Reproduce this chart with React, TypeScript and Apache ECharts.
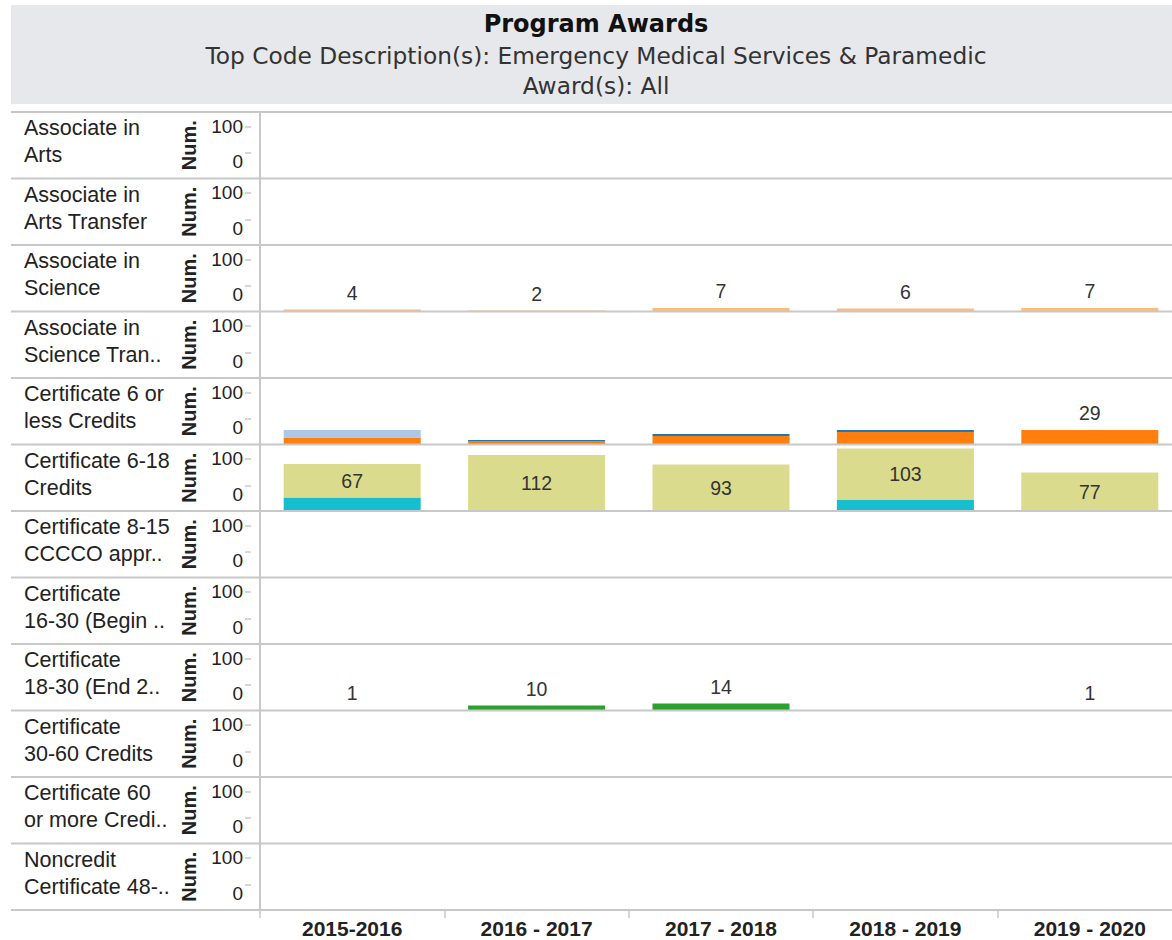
import React, { useEffect, useRef } from 'react';
import * as echarts from 'echarts';

// ---------- data ----------
const years = ['2015-2016', '2016 - 2017', '2017 - 2018', '2018 - 2019', '2019 - 2020'];
const awardTypes = [
  'Associate in\nArts',
  'Associate in\nArts Transfer',
  'Associate in\nScience',
  'Associate in\nScience Tran..',
  'Certificate 6 or\nless Credits',
  'Certificate 6-18\nCredits',
  'Certificate 8-15\nCCCCO appr..',
  'Certificate\n16-30 (Begin ..',
  'Certificate\n18-30 (End 2..',
  'Certificate\n30-60 Credits',
  'Certificate 60\nor more Credi..',
  'Noncredit\nCertificate 48-..',
];
const yTickValues = [0, 100];
const titleText = 'Program Awards';
const subtitleLines = [
  'Top Code Description(s): Emergency Medical Services & Paramedic',
  'Award(s): All',
];

const assocScience = [4, 2, 7, 6, 7];
const cert6Orange = [14, 6, 17, 25, 29];
const cert6OrangeLabeled = [false, false, false, false, true];
const cert6Blue = [0, 3, 4, 4, 0];
const cert6LightBlue = [15, 0, 0, 0, 0];
const cert618Teal = [27, 0, 0, 22, 0];
const cert618Khaki = [67, 112, 93, 103, 77];
const cert1830Green = [1, 10, 14, null, 1];

// ---------- layout / style ----------
const FONT = "'Liberation Sans', Arial, sans-serif";
const HFONT = "'DejaVu Sans', sans-serif";
const ROW_TOP = 112;
const ROW_H = 66.5;
const PLOT_LEFT = 260;
const PLOT_W = 922;
const CHART_W = 1182;
const LINE = '#c8c8c8';
const TEXT = '#222';

type Def = {
  row: number;
  values: (number | null)[];
  color: string;
  stack?: string;
  labelPos?: 'top' | 'inside';
  labeled?: boolean[];
};

const seriesDefs: Def[] = [
  { row: 2, values: assocScience, color: '#ffbb78', labelPos: 'top' },
  { row: 4, values: cert6Orange, color: '#ff7f0e', stack: 'r4', labelPos: 'top', labeled: cert6OrangeLabeled },
  { row: 4, values: cert6Blue, color: '#1f77b4', stack: 'r4' },
  { row: 4, values: cert6LightBlue, color: '#aec7e8', stack: 'r4' },
  { row: 5, values: cert618Teal, color: '#17becf', stack: 'r5' },
  { row: 5, values: cert618Khaki, color: '#dbdb8d', stack: 'r5', labelPos: 'inside' },
  { row: 8, values: cert1830Green, color: '#2ca02c', labelPos: 'top' },
];

const rowTop = (i: number) => ROW_TOP + i * ROW_H;

function buildOption() {
  const n = awardTypes.length;
  const grids: any[] = [];
  const xAxes: any[] = [];
  const yAxes: any[] = [];
  for (let i = 0; i < n; i++) {
    const last = i === n - 1;
    grids.push({ left: PLOT_LEFT, top: rowTop(i), width: PLOT_W, height: ROW_H, containLabel: false });
    xAxes.push({
      type: 'category',
      gridIndex: i,
      data: years,
      boundaryGap: true,
      axisLine: { show: false },
      axisTick: { show: last, alignWithLabel: false, length: 8, lineStyle: { color: LINE, width: 1.5 } },
      axisLabel: {
        show: last,
        margin: 8,
        fontFamily: FONT,
        fontSize: 21,
        fontWeight: 'bold',
        color: TEXT,
      },
      splitLine: { show: false },
    });
    // data axis (hidden labels, draws pane border)
    yAxes.push({
      type: 'value',
      gridIndex: i,
      min: 0,
      max: 133,
      position: 'left',
      axisLine: { show: true, lineStyle: { color: LINE, width: 2 } },
      axisTick: { show: false },
      axisLabel: { show: false },
      splitLine: { show: false },
    });
    // displayed tick axis
    yAxes.push({
      type: 'value',
      gridIndex: i,
      min: -96,
      max: 154,
      position: 'left',
      offset: 9,
      name: 'Num.',
      nameLocation: 'middle',
      nameRotate: 90,
      nameGap: 52,
      nameTextStyle: { fontFamily: FONT, fontSize: 20, fontWeight: 'bold', color: TEXT },
      axisLine: { show: false },
      axisTick: { show: true, length: 6, customValues: yTickValues, lineStyle: { color: LINE, width: 1.5 } },
      axisLabel: {
        show: true,
        margin: 8,
        customValues: yTickValues,
        formatter: (v: number) => (v === 0 ? `{lo|${v}}` : `{hi|${v}}`),
        rich: {
          lo: { fontFamily: FONT, fontSize: 19, color: TEXT, padding: [18, 0, 0, 0] },
          hi: { fontFamily: FONT, fontSize: 19, color: TEXT },
        },
      },
      splitLine: { show: false },
    });
  }

  const series = seriesDefs.map((d) => ({
    type: 'bar',
    xAxisIndex: d.row,
    yAxisIndex: d.row * 2,
    stack: d.stack,
    barWidth: 137,
    itemStyle: { color: d.color },
    label: {
      show: !!d.labelPos && !d.labeled,
      position: d.labelPos || 'top',
      distance: 7,
      fontFamily: FONT,
      fontSize: 19.5,
      color: '#333',
    },
    data: d.values.map((v, j) =>
      d.labeled ? { value: v, label: { show: d.labeled[j] } } : v
    ),
  }));

  const graphic: any[] = [];
  graphic.push({
    type: 'rect',
    shape: { x: 11, y: 5, width: CHART_W - 11, height: 99 },
    style: { fill: '#e7e8eb' },
    z: 0,
  });
  graphic.push({
    type: 'text',
    style: {
      text: titleText,
      x: 596,
      y: 24,
      align: 'center',
      verticalAlign: 'middle',
      font: `bold 24px ${HFONT}`,
      fill: '#111',
    },
    z: 5,
  });
  subtitleLines.forEach((t, k) => {
    graphic.push({
      type: 'text',
      style: {
        text: t,
        x: 596,
        y: 55 + k * 30.5,
        align: 'center',
        verticalAlign: 'middle',
        font: `23.3px ${HFONT}`,
        fill: '#333',
      },
      z: 5,
    });
  });
  for (let i = 0; i <= awardTypes.length; i++) {
    graphic.push({
      type: 'line',
      shape: { x1: 11, y1: rowTop(i), x2: CHART_W, y2: rowTop(i) },
      style: { stroke: LINE, lineWidth: 2 },
      z: 100,
    });
  }
  awardTypes.forEach((t, i) => {
    graphic.push({
      type: 'text',
      style: {
        text: t,
        x: 24,
        y: rowTop(i) + 29.7,
        align: 'left',
        verticalAlign: 'middle',
        fontFamily: FONT,
        fontSize: 21.5,
        lineHeight: 26.7,
        fill: TEXT,
      },
      z: 5,
    });
  });

  return {
    animation: false,
    backgroundColor: '#fff',
    grid: grids,
    xAxis: xAxes,
    yAxis: yAxes,
    series,
    graphic,
  };
}

export default function App() {
  const ref = useRef<HTMLDivElement>(null);
  useEffect(() => {
    if (!ref.current) return;
    const chart = echarts.init(ref.current, undefined, { renderer: 'svg' });
    chart.setOption(buildOption() as any);
    return () => chart.dispose();
  }, []);
  return (
    <div
      style={{ position: 'fixed', left: 0, top: 0, width: 1172, height: 940, overflow: 'hidden', background: '#fff' }}
    >
      <div ref={ref} style={{ width: CHART_W, height: 940 }} />
    </div>
  );
}
